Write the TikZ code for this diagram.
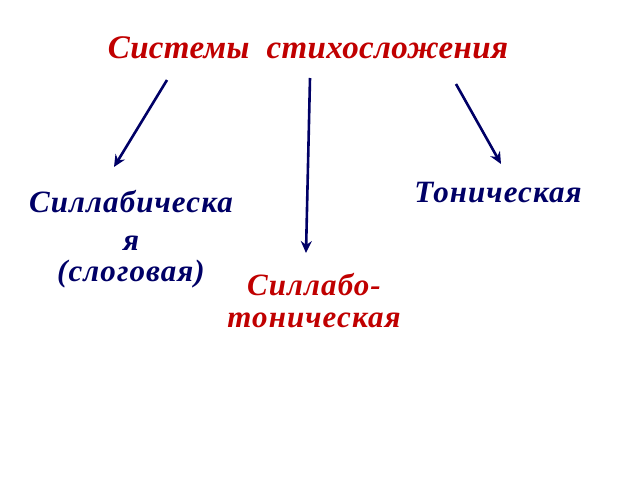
\documentclass[tikz,border=0pt]{standalone}
\usepackage{fontspec}
\setmainfont{Liberation Serif}[LetterSpace=3.5]
\newfontfamily\titlefont{Liberation Serif}[LetterSpace=1]
\usepackage{tikz}
\usetikzlibrary{arrows.meta}
\definecolor{R}{RGB}{192,0,0}
\definecolor{B}{RGB}{0,0,102}
\newcommand{\drawarrow}{\draw[B,line width=2.6pt,-{Stealth[length=12pt,width=11pt,inset=4pt]}]}
\tikzset{
    lbl/.style={inner sep=0pt,anchor=base,font=\bfseries\itshape\fontsize{31}{31}\selectfont,align=center}
}
\begin{document}
\begin{tikzpicture}[x=1pt,y=-1pt]
\useasboundingbox (0,0) rectangle (640,480);
\node[lbl,R,font=\titlefont\bfseries\itshape\fontsize{33}{34}\selectfont] (title) at (308,58) {Системы\ \ стихосложения};
\node[lbl,B] (sill) at (131,281) {Силлабическа\\[7pt]я\\(слоговая)};
\node[lbl,B] (ton) at (498,202) {Тоническая};
\node[lbl,R,font=\bfseries\itshape\fontsize{31}{32}\selectfont] (silton) at (314,327) {Силлабо-\\тоническая};
\coordinate (a1) at (167,80);\coordinate (b1) at (114,167);
\coordinate (a2) at (310,78);\coordinate (b2) at (306,253);
\coordinate (a3) at (456,84);\coordinate (b3) at (501,164);
\drawarrow (a1)--(b1);
    \drawarrow (a2)--(b2);
    \drawarrow (a3)--(b3);
\end{tikzpicture}
\end{document}
